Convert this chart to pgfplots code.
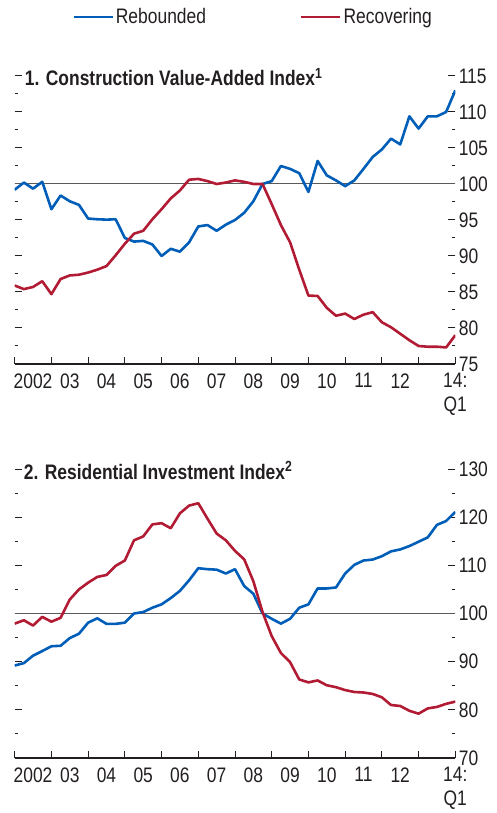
\documentclass[border=0pt]{standalone}
\usepackage{fontspec}
\setmainfont{Liberation Sans}[FakeStretch=0.83]
\usepackage{pgfplots}
\usepackage{pgfplotstable}
\pgfplotsset{compat=1.18}
\definecolor{rblue}{RGB}{0,94,184}
\definecolor{rred}{RGB}{178,27,52}
\definecolor{txt}{RGB}{35,31,32}
\definecolor{refline}{RGB}{90,90,90}

\pgfplotstableread{
i blue red
0 99.2 85.9
1 100.2 85.4
2 99.35 85.7
3 100.3 86.5
4 96.5 84.7
5 98.4 86.8
6 97.6 87.3
7 97.1 87.4
8 95.2 87.7
9 95.1 88.1
10 95.05 88.6
11 95.1 90.1
12 92.5 91.7
13 92.0 93.1
14 92.1 93.5
15 91.6 95.1
16 90.0 96.5
17 91.0 98.0
18 90.6 99.1
19 91.9 100.6
20 94.1 100.7
21 94.3 100.4
22 93.5 100.0
23 94.35 100.2
24 95.0 100.5
25 96.0 100.3
26 97.6 100.0
27 100.0 100.0
28 100.4 97.2
29 102.5 94.3
30 102.1 91.9
31 101.5 88.1
32 98.9 84.5
33 103.2 84.45
34 101.2 82.8
35 100.5 81.7
36 99.7 82.0
37 100.5 81.25
38 102.1 81.85
39 103.75 82.2
40 104.8 80.8
41 106.3 80.1
42 105.5 79.2
43 109.4 78.3
44 107.7 77.5
45 109.4 77.4
46 109.4 77.4
47 110.0 77.3
48 113.0 79.0
}\constr

\pgfplotstableread{
i blue red
0 89.2 97.9
1 89.7 98.6
2 91.25 97.5
3 92.2 99.3
4 93.2 98.3
5 93.3 99.1
6 94.9 102.9
7 95.8 105.0
8 98.1 106.4
9 99.0 107.6
10 97.85 108.0
11 97.85 109.9
12 98.1 111.0
13 100.0 115.2
14 100.3 116.0
15 101.2 118.5
16 101.9 118.75
17 103.2 117.7
18 104.7 120.8
19 106.9 122.4
20 109.4 122.9
21 109.2 119.7
22 109.1 116.6
23 108.3 115.2
24 109.2 113.0
25 105.7 111.25
26 104.1 106.7
27 100.0 100.3
28 98.9 95.3
29 97.9 91.8
30 98.9 89.9
31 101.2 86.3
32 101.9 85.7
33 105.2 86.1
34 105.2 85.1
35 105.4 84.7
36 108.3 84.1
37 110.1 83.7
38 111.0 83.6
39 111.2 83.3
40 111.9 82.6
41 112.9 81.0
42 113.3 80.8
43 114.0 79.8
44 114.9 79.2
45 115.8 80.3
46 118.4 80.6
47 119.2 81.25
48 121.1 81.7
}\resid

\pgfplotsset{
  panel/.style={
    scale only axis, width=440.6pt,
    xmin=0, xmax=48,
    clip mode=individual,
    axis line style={draw=none},
    tick align=inside,
    xtick={0,4,...,48}, xticklabels={},
    xtick pos=lower,
    ytick pos=both, yticklabel pos=right,
    major tick length=7pt, minor tick length=3pt,
    every tick/.style={txt, line width=1pt},
    font=\fontsize{21}{24}\selectfont,
    tick label style={font=\fontsize{21}{24}\selectfont, text=txt},
    /pgf/number format/assume math mode=true,
    extra x ticks={2,6,10,14,18,22,26,30,34,38,42,48},
    extra x tick labels={2002,03,04,05,06,07,08,09,10,11,12,{14:\\Q1}},
    extra x tick style={major tick length=0pt},
    xticklabel style={align=center, yshift=-6pt},
    every axis plot/.append style={line width=2.6pt, line join=round},
  },
}

\begin{document}
\begin{tikzpicture}
% Panel 1
\begin{axis}[panel, at={(0,394pt)}, anchor=south west, height=288pt,
  ymin=75, ymax=115, ytick={75,80,...,115}, minor ytick={77.5,82.5,...,112.5},
  legend columns=2,
  legend style={draw=none, fill=none, at={(axis description cs:0.541,1.205)}, anchor=center,
    font=\fontsize{21}{24}\selectfont, text=txt,
    /tikz/every even column/.append style={column sep=92pt}},
  legend image code/.code={\draw[#1] (0pt,0pt) -- (39pt,0pt);},
]
\addplot[refline, line width=1pt, forget plot] coordinates {(0,100) (48,100)};
\addplot[rblue] table[x=i, y=blue] {\constr};
\addplot[rred] table[x=i, y=red] {\constr};
\legend{Rebounded, Recovering}
\draw[txt, line width=1.2pt] (rel axis cs:0,0) -- (rel axis cs:1,0);
\node[anchor=base west, inner sep=0pt, text=txt, font=\fontsize{21}{24}\selectfont\bfseries]
  at (rel axis cs:0,1) [xshift=10pt, yshift=-10pt] {1. Construction Value-Added Index\textsuperscript{1}};
\end{axis}
% Panel 2
\begin{axis}[panel, at={(0,0)}, anchor=south west, height=289pt,
  ymin=70, ymax=130, ytick={70,80,...,130}, minor ytick={75,85,...,125},
]
\addplot[refline, line width=1pt, forget plot] coordinates {(0,100) (48,100)};
\addplot[rblue] table[x=i, y=blue] {\resid};
\addplot[rred] table[x=i, y=red] {\resid};
\draw[txt, line width=1.2pt] (rel axis cs:0,0) -- (rel axis cs:1,0);
\node[anchor=base west, inner sep=0pt, text=txt, font=\fontsize{21}{24}\selectfont\bfseries]
  at (rel axis cs:0,1) [xshift=9pt, yshift=-10pt] {2. Residential Investment Index\textsuperscript{2}};
\end{axis}
\pgfresetboundingbox
\path[use as bounding box] (-14.7pt,-55pt) rectangle (482.3pt,758pt);
\end{tikzpicture}
\end{document}
